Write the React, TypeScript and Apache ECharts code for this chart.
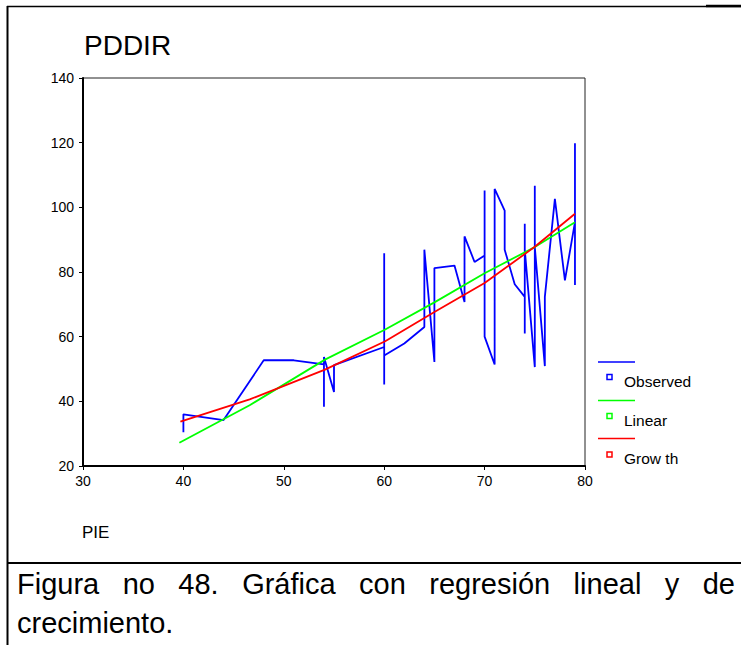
import { useEffect, useRef } from "react";
import * as echarts from "echarts";

const FONT = '"Liberation Sans", Arial, Helvetica, sans-serif';

const xTicks = [30, 40, 50, 60, 70, 80];
const yTicks = [20, 40, 60, 80, 100, 120, 140];

// Observed PDDIR vs PIE, in the order the line is drawn
const observed: [number, number][] = [
  [40, 30.4], [40, 36], [44, 34.2], [48, 52.7], [51, 52.7], [54, 51.4], [54, 38.3], [54, 53.7],
  [55, 42.9], [55, 51.2], [60, 56.8], [60, 45.2], [60, 85.8], [60, 54.2], [62, 57.9], [64, 63],
  [64, 86.9], [65, 52.2], [65, 81.2], [67, 82], [68, 70.7], [68, 91], [69, 83.1], [70, 85.1],
  [70, 105.2], [70, 60], [71, 51.4], [71, 105.7], [72, 99], [72, 86.9], [73, 76.2], [74, 72.3],
  [74, 61], [74, 94.9], [74, 87], [75, 50.6], [75, 106.7], [75, 87.7], [76, 50.9], [76, 72.3],
  [77, 102.6], [78, 77.4], [79, 95.4], [79, 119.8], [79, 76],
];

const linear: [number, number][] = [
  [39.6, 27.2], [46.6, 38.8], [54.1, 52.9], [60.1, 62.2], [65, 70.6], [70, 79.6], [75, 87.7], [79, 95.4],
];

const growth: [number, number][] = [
  [39.7, 33.7], [46.6, 40.6], [54.1, 49.8], [60.1, 58.6], [65, 67.6], [70, 76.6], [75, 87.8], [79, 98],
];

const legendNames = ["Observed", "Linear", "Grow th"];
const legendColors = ["#0000ff", "#00ff00", "#ff0000"];

const titleText = "PDDIR";
const xName = "PIE";
const captionLine1 = "Figura no 48. Gráfica con regresión lineal y de";
const captionLine2 = "crecimiento.";

export default function App() {
  const ref = useRef<HTMLDivElement>(null);
  useEffect(() => {
    if (!ref.current) return;
    const chart = echarts.init(ref.current, undefined, { renderer: "svg" });

    // justified caption line
    const capSize = 29;
    const canvas = document.createElement("canvas");
    const ctx = canvas.getContext("2d")!;
    ctx.font = `${capSize}px ${FONT}`;
    const words = captionLine1.split(" ");
    const widths = words.map((w) => ctx.measureText(w).width);
    const left = 17;
    const right = 735;
    const total = widths.reduce((a, b) => a + b, 0);
    const gap = (right - left - total) / (words.length - 1);
    let cx = left;
    const captionWords: any[] = words.map((w, i) => {
      const el = {
        type: "text",
        x: cx,
        y: 584,
        style: { text: w, fill: "#000", fontSize: capSize, fontFamily: FONT, textAlign: "left", textVerticalAlign: "middle", align: "left", verticalAlign: "middle" },
      };
      cx += widths[i] + gap;
      return el;
    });

    const legendEls: any[] = [];
    const lineYs = [362, 400.5, 438.5];
    const textYs = [381.5, 420.5, 458.5];
    const boxYs = [377, 416, 454.5];
    legendNames.forEach((n, i) => {
      legendEls.push({
        type: "line",
        shape: { x1: 598, y1: lineYs[i], x2: 635, y2: lineYs[i] },
        style: { stroke: legendColors[i], lineWidth: 1.6 },
      });
      legendEls.push({
        type: "rect",
        shape: { x: 607, y: boxYs[i] - 2.5, width: 5, height: 5 },
        style: { stroke: legendColors[i], fill: "#fff", lineWidth: 1.5 },
      });
      legendEls.push({
        type: "text",
        x: 624,
        y: textYs[i],
        style: { text: n, fill: "#000", fontSize: 15.5, fontFamily: FONT, textAlign: "left", textVerticalAlign: "middle", align: "left", verticalAlign: "middle" },
      });
    });

    chart.setOption({
      animation: false,
      backgroundColor: "#fff",
      grid: {
        left: 83, top: 78, right: 741 - 585, bottom: 645 - 466,
        show: true, borderColor: "#222", borderWidth: 1, backgroundColor: "transparent",
      },
      xAxis: {
        type: "value", min: xTicks[0], max: xTicks[xTicks.length - 1], interval: 10,
        axisLine: { show: true, lineStyle: { color: "#000", width: 2 } },
        axisTick: { show: true, length: 4, lineStyle: { color: "#000" } },
        axisLabel: { color: "#000", fontSize: 14, fontFamily: FONT, margin: 8 },
        splitLine: { show: false },
      },
      yAxis: {
        type: "value", min: yTicks[0], max: yTicks[yTicks.length - 1], interval: 20,
        axisLine: { show: true, lineStyle: { color: "#000", width: 2 } },
        axisTick: { show: true, length: 4, lineStyle: { color: "#000" } },
        axisLabel: { color: "#000", fontSize: 14, fontFamily: FONT, margin: 9 },
        splitLine: { show: false },
      },
      series: [
        { name: legendNames[0], type: "line", data: observed, showSymbol: false, symbol: "none", lineStyle: { color: legendColors[0], width: 1.8 }, itemStyle: { color: legendColors[0] }, z: 2 },
        { name: legendNames[1], type: "line", data: linear, showSymbol: false, symbol: "none", lineStyle: { color: legendColors[1], width: 1.8 }, itemStyle: { color: legendColors[1] }, z: 3 },
        { name: legendNames[2], type: "line", data: growth, showSymbol: false, symbol: "none", lineStyle: { color: legendColors[2], width: 1.8 }, itemStyle: { color: legendColors[2] }, z: 4 },
      ],
      graphic: [
        // frame
        { type: "line", shape: { x1: 7.5, y1: 6, x2: 7.5, y2: 645 }, style: { stroke: "#000", lineWidth: 2 } },
        { type: "line", shape: { x1: 7, y1: 6.5, x2: 741, y2: 6.5 }, style: { stroke: "#000", lineWidth: 1.5 } },
        { type: "line", shape: { x1: 706, y1: 6, x2: 741, y2: 6 }, style: { stroke: "#000", lineWidth: 2.5 } },
        { type: "line", shape: { x1: 7, y1: 563, x2: 741, y2: 563 }, style: { stroke: "#000", lineWidth: 2 } },
        {
          type: "text", x: 84, y: 45,
          style: { text: titleText, fill: "#000", fontSize: 28, fontFamily: FONT, textAlign: "left", textVerticalAlign: "middle", align: "left", verticalAlign: "middle" },
        },
        {
          type: "text", x: 82, y: 532,
          style: { text: xName, fill: "#000", fontSize: 17, fontFamily: FONT, textAlign: "left", textVerticalAlign: "middle", align: "left", verticalAlign: "middle" },
        },
        ...legendEls,
        ...captionWords,
        {
          type: "text", x: 17, y: 623,
          style: { text: captionLine2, fill: "#000", fontSize: capSize, fontFamily: FONT, textAlign: "left", textVerticalAlign: "middle", align: "left", verticalAlign: "middle" },
        },
      ],
    });
    return () => chart.dispose();
  }, []);
  return <div ref={ref} style={{ position: "absolute", left: 0, top: 0, width: 741, height: 645 }} />;
}
